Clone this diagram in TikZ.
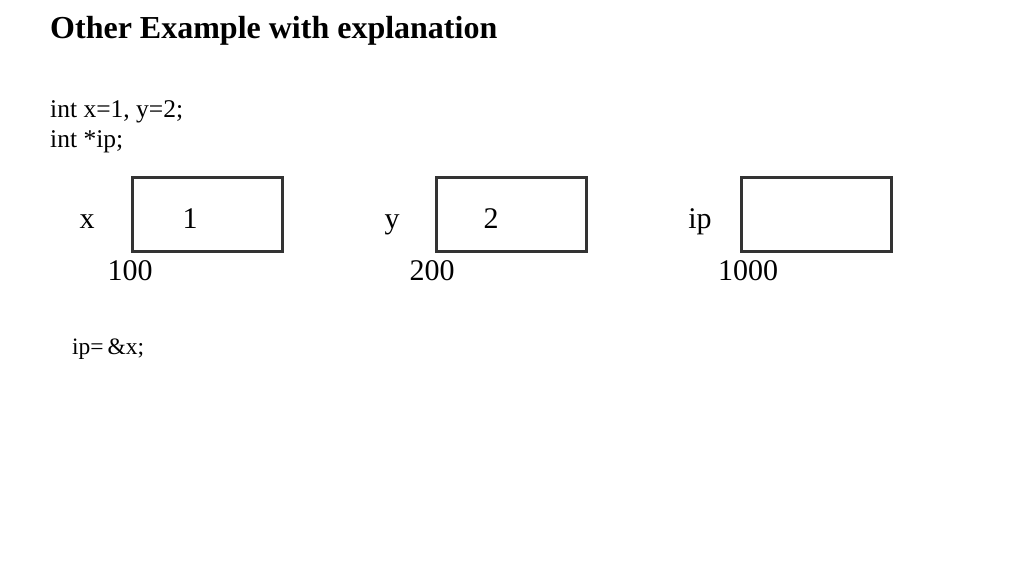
\documentclass[tikz,border=0pt]{standalone}
\usepackage{fontspec}
\setmainfont{Liberation Serif}
\begin{document}
\begin{tikzpicture}[x=1pt,y=-1pt,
  cell/.style={draw=black!80, line width=3pt, minimum width=150pt, minimum height=74pt, inner sep=0pt},
  lbl/.style={anchor=base, inner sep=0pt, font=\fontsize{30}{30}\selectfont},
  code/.style={anchor=base west, inner sep=0pt, font=\fontsize{25.5}{25.5}\selectfont}]
\useasboundingbox (0,0) rectangle (1024,576);
\node[anchor=base west, inner sep=0pt, font=\fontsize{32}{32}\selectfont\bfseries] (title) at (50,38) {Other Example with explanation};
\node[code] (c1) at (50,117) {int x=1, y=2;};
\node[code] (c2) at (50,147) {int *ip;};
\node[cell] (bx) at (207,214) {};
\node[cell] (by) at (511,214) {};
\node[cell] (bip) at (816,214) {};
\node[lbl] (lx) at (87,228) {x};
\node[lbl] (vx) at (190,228) {1};
\node[lbl] (ax) at (130,280) {100};
\node[lbl] (ly) at (392,228) {y};
\node[lbl] (vy) at (491,228) {2};
\node[lbl] (ay) at (432,280) {200};
\node[lbl] (lip) at (700,228) {ip};
\node[lbl] (aip) at (748,280) {1000};
\node[code, font=\fontsize{23.5}{23.5}\selectfont] (c3) at (72,354) {ip=\,\&x;};
\end{tikzpicture}
\end{document}
